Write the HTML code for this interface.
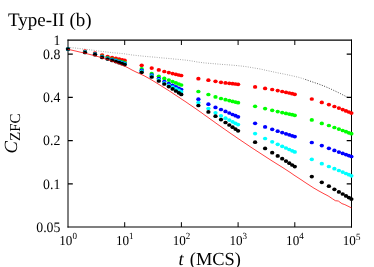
<!DOCTYPE html>
<html><head><meta charset="utf-8"><title>Type-II (b)</title>
<style>html,body{margin:0;padding:0;background:#fff;}svg{display:block;font-family:"Liberation Serif",serif;will-change:transform;text-rendering:geometricPrecision;}</style></head><body>
<svg width="374" height="267" viewBox="0 0 374 267">
<rect x="0" y="0" width="374" height="267" fill="#ffffff"/>
<defs><filter id="soft" x="-5%" y="-5%" width="110%" height="110%"><feGaussianBlur stdDeviation="0.3"/></filter></defs>
<g stroke="#000" fill="none">
<path stroke-width="1" d="M68.0 39.6V227.6M351.5 39.6V227.6"/>
<path stroke-width="1.2" d="M67.5 40.2H352.0M67.5 227.0H352.0"/>
<path stroke-width="1" d="M124.7 227.0v-4.8M124.7 40.2v4.8M181.4 227.0v-4.8M181.4 40.2v4.8M238.1 227.0v-4.8M238.1 40.2v4.8M294.8 227.0v-4.8M294.8 40.2v4.8"/>
<path stroke-width="1.2" d="M68.0 54.1h4.8M351.5 54.1h-4.8M68.0 97.3h4.8M351.5 97.3h-4.8M68.0 140.6h4.8M351.5 140.6h-4.8M68.0 183.8h4.8M351.5 183.8h-4.8"/>
</g>
<polyline points="68.0,47.4 70.3,47.6 72.7,47.8 75.0,48.0 77.4,48.3 79.7,48.6 82.1,48.9 84.4,49.1 86.8,49.4 89.1,49.7 91.5,50.0 93.8,50.3 96.2,50.7 98.5,51.0 100.9,51.3 103.2,51.6 105.6,51.9 107.9,52.2 110.3,52.4 112.6,52.7 115.0,52.9 117.3,53.1 119.7,53.3 122.0,53.6 124.4,53.8 126.7,54.2 129.1,54.5 131.4,54.9 133.8,55.2 136.1,55.4 138.5,55.7 140.8,55.9 143.2,56.2 145.5,56.4 147.9,56.6 150.2,56.8 152.6,57.0 154.9,57.2 157.3,57.4 159.6,57.7 162.0,57.9 164.3,58.1 166.7,58.3 169.0,58.5 171.4,58.7 173.7,59.0 176.1,59.2 178.4,59.4 180.8,59.6 183.1,59.9 185.5,60.1 187.8,60.4 190.2,60.7 192.5,61.1 194.9,61.5 197.2,62.0 199.6,62.3 201.9,62.6 204.3,62.9 206.6,63.1 209.0,63.3 211.3,63.5 213.7,63.7 216.0,63.9 218.4,64.1 220.7,64.3 223.1,64.5 225.4,64.6 227.8,64.8 230.1,65.0 232.5,65.2 234.8,65.4 237.2,65.6 239.5,65.9 241.9,66.1 244.2,66.4 246.6,66.7 248.9,67.1 251.3,67.5 253.6,67.9 256.0,68.3 258.3,68.7 260.7,69.1 263.0,69.6 265.4,70.2 267.7,70.7 270.1,71.2 272.4,71.7 274.8,72.2 277.1,72.7 279.5,73.2 281.8,73.6 284.2,74.1 286.5,74.6 288.9,75.1 291.2,75.6 293.6,76.1 295.9,76.7 298.3,77.2 300.6,77.9 303.0,78.6 305.3,79.4" fill="none" stroke="#505050" stroke-width="0.55" stroke-dasharray="0.9 1.45"/>
<polyline points="305.3,79.4 307.7,80.3 310.0,81.1 312.4,81.9 314.7,82.7 317.1,83.5 319.4,84.3 321.8,85.2 324.1,86.1 326.5,87.1 328.8,88.1 331.2,89.2 333.5,90.3 335.9,91.4 338.2,92.5 340.6,93.7 342.9,94.9 345.3,96.1 347.6,97.3 349.0,98.0" fill="none" stroke="#000" stroke-width="0.75" stroke-dasharray="1.0 1.5"/>
<g filter="url(#soft)">
<g fill="#ff0000">
<ellipse cx="68.0" cy="49.0" rx="2.15" ry="1.85"/>
<ellipse cx="85.0" cy="51.0" rx="2.15" ry="1.85"/>
<ellipse cx="95.0" cy="53.0" rx="2.15" ry="1.85"/>
<ellipse cx="102.1" cy="55.0" rx="2.15" ry="1.85"/>
<ellipse cx="107.6" cy="56.5" rx="2.15" ry="1.85"/>
<ellipse cx="112.1" cy="57.6" rx="2.15" ry="1.85"/>
<ellipse cx="115.9" cy="58.4" rx="2.15" ry="1.85"/>
<ellipse cx="119.2" cy="59.1" rx="2.15" ry="1.85"/>
<ellipse cx="122.1" cy="59.8" rx="2.15" ry="1.85"/>
<ellipse cx="124.7" cy="60.4" rx="2.15" ry="1.85"/>
<ellipse cx="141.7" cy="65.3" rx="2.15" ry="1.85"/>
<ellipse cx="151.7" cy="68.1" rx="2.15" ry="1.85"/>
<ellipse cx="158.8" cy="69.9" rx="2.15" ry="1.85"/>
<ellipse cx="164.3" cy="71.5" rx="2.15" ry="1.85"/>
<ellipse cx="168.8" cy="72.6" rx="2.15" ry="1.85"/>
<ellipse cx="172.6" cy="73.6" rx="2.15" ry="1.85"/>
<ellipse cx="175.9" cy="74.3" rx="2.15" ry="1.85"/>
<ellipse cx="178.8" cy="75.0" rx="2.15" ry="1.85"/>
<ellipse cx="181.3" cy="75.5" rx="2.15" ry="1.85"/>
<ellipse cx="198.4" cy="78.7" rx="2.15" ry="1.85"/>
<ellipse cx="208.4" cy="80.2" rx="2.15" ry="1.85"/>
<ellipse cx="215.5" cy="81.3" rx="2.15" ry="1.85"/>
<ellipse cx="221.0" cy="82.3" rx="2.15" ry="1.85"/>
<ellipse cx="225.5" cy="82.9" rx="2.15" ry="1.85"/>
<ellipse cx="229.3" cy="83.3" rx="2.15" ry="1.85"/>
<ellipse cx="232.6" cy="83.7" rx="2.15" ry="1.85"/>
<ellipse cx="235.5" cy="84.0" rx="2.15" ry="1.85"/>
<ellipse cx="238.1" cy="84.3" rx="2.15" ry="1.85"/>
<ellipse cx="255.1" cy="86.9" rx="2.15" ry="1.85"/>
<ellipse cx="265.1" cy="88.4" rx="2.15" ry="1.85"/>
<ellipse cx="272.2" cy="89.5" rx="2.15" ry="1.85"/>
<ellipse cx="277.7" cy="90.6" rx="2.15" ry="1.85"/>
<ellipse cx="282.2" cy="91.5" rx="2.15" ry="1.85"/>
<ellipse cx="286.0" cy="92.3" rx="2.15" ry="1.85"/>
<ellipse cx="289.3" cy="93.0" rx="2.15" ry="1.85"/>
<ellipse cx="292.2" cy="93.7" rx="2.15" ry="1.85"/>
<ellipse cx="294.8" cy="94.3" rx="2.15" ry="1.85"/>
<ellipse cx="311.8" cy="99.0" rx="2.15" ry="1.85"/>
<ellipse cx="321.8" cy="102.4" rx="2.15" ry="1.85"/>
<ellipse cx="328.9" cy="104.6" rx="2.15" ry="1.85"/>
<ellipse cx="334.4" cy="106.5" rx="2.15" ry="1.85"/>
<ellipse cx="338.9" cy="108.1" rx="2.15" ry="1.85"/>
<ellipse cx="342.7" cy="109.6" rx="2.15" ry="1.85"/>
<ellipse cx="346.0" cy="110.9" rx="2.15" ry="1.85"/>
<ellipse cx="348.9" cy="112.0" rx="2.15" ry="1.85"/>
<ellipse cx="351.4" cy="113.1" rx="2.15" ry="1.85"/>
</g>
<g fill="#00ff00">
<ellipse cx="68.0" cy="49.0" rx="2.15" ry="1.85"/>
<ellipse cx="85.0" cy="51.9" rx="2.15" ry="1.85"/>
<ellipse cx="95.0" cy="53.9" rx="2.15" ry="1.85"/>
<ellipse cx="102.1" cy="56.3" rx="2.15" ry="1.85"/>
<ellipse cx="107.6" cy="57.9" rx="2.15" ry="1.85"/>
<ellipse cx="112.1" cy="59.1" rx="2.15" ry="1.85"/>
<ellipse cx="115.9" cy="60.1" rx="2.15" ry="1.85"/>
<ellipse cx="119.2" cy="61.0" rx="2.15" ry="1.85"/>
<ellipse cx="122.1" cy="61.9" rx="2.15" ry="1.85"/>
<ellipse cx="124.7" cy="62.7" rx="2.15" ry="1.85"/>
<ellipse cx="141.7" cy="68.9" rx="2.15" ry="1.85"/>
<ellipse cx="151.7" cy="73.7" rx="2.15" ry="1.85"/>
<ellipse cx="158.8" cy="76.3" rx="2.15" ry="1.85"/>
<ellipse cx="164.3" cy="78.4" rx="2.15" ry="1.85"/>
<ellipse cx="168.8" cy="80.1" rx="2.15" ry="1.85"/>
<ellipse cx="172.6" cy="81.6" rx="2.15" ry="1.85"/>
<ellipse cx="175.9" cy="82.9" rx="2.15" ry="1.85"/>
<ellipse cx="178.8" cy="84.0" rx="2.15" ry="1.85"/>
<ellipse cx="181.3" cy="85.0" rx="2.15" ry="1.85"/>
<ellipse cx="198.4" cy="91.5" rx="2.15" ry="1.85"/>
<ellipse cx="208.4" cy="94.5" rx="2.15" ry="1.85"/>
<ellipse cx="215.5" cy="96.9" rx="2.15" ry="1.85"/>
<ellipse cx="221.0" cy="98.5" rx="2.15" ry="1.85"/>
<ellipse cx="225.5" cy="99.7" rx="2.15" ry="1.85"/>
<ellipse cx="229.3" cy="100.6" rx="2.15" ry="1.85"/>
<ellipse cx="232.6" cy="101.4" rx="2.15" ry="1.85"/>
<ellipse cx="235.5" cy="102.1" rx="2.15" ry="1.85"/>
<ellipse cx="238.1" cy="102.7" rx="2.15" ry="1.85"/>
<ellipse cx="255.1" cy="106.3" rx="2.15" ry="1.85"/>
<ellipse cx="265.1" cy="108.6" rx="2.15" ry="1.85"/>
<ellipse cx="272.2" cy="110.3" rx="2.15" ry="1.85"/>
<ellipse cx="277.7" cy="111.6" rx="2.15" ry="1.85"/>
<ellipse cx="282.2" cy="112.6" rx="2.15" ry="1.85"/>
<ellipse cx="286.0" cy="113.4" rx="2.15" ry="1.85"/>
<ellipse cx="289.3" cy="114.1" rx="2.15" ry="1.85"/>
<ellipse cx="292.2" cy="114.7" rx="2.15" ry="1.85"/>
<ellipse cx="294.8" cy="115.3" rx="2.15" ry="1.85"/>
<ellipse cx="311.8" cy="119.9" rx="2.15" ry="1.85"/>
<ellipse cx="321.8" cy="123.4" rx="2.15" ry="1.85"/>
<ellipse cx="328.9" cy="125.5" rx="2.15" ry="1.85"/>
<ellipse cx="334.4" cy="127.5" rx="2.15" ry="1.85"/>
<ellipse cx="338.9" cy="129.1" rx="2.15" ry="1.85"/>
<ellipse cx="342.7" cy="130.5" rx="2.15" ry="1.85"/>
<ellipse cx="346.0" cy="131.7" rx="2.15" ry="1.85"/>
<ellipse cx="348.9" cy="132.8" rx="2.15" ry="1.85"/>
<ellipse cx="351.4" cy="133.7" rx="2.15" ry="1.85"/>
</g>
<g fill="#0000ff">
<ellipse cx="68.0" cy="49.0" rx="2.15" ry="1.85"/>
<ellipse cx="85.0" cy="52.1" rx="2.15" ry="1.85"/>
<ellipse cx="95.0" cy="54.2" rx="2.15" ry="1.85"/>
<ellipse cx="102.1" cy="56.8" rx="2.15" ry="1.85"/>
<ellipse cx="107.6" cy="58.3" rx="2.15" ry="1.85"/>
<ellipse cx="112.1" cy="59.6" rx="2.15" ry="1.85"/>
<ellipse cx="115.9" cy="60.7" rx="2.15" ry="1.85"/>
<ellipse cx="119.2" cy="61.7" rx="2.15" ry="1.85"/>
<ellipse cx="122.1" cy="62.6" rx="2.15" ry="1.85"/>
<ellipse cx="124.7" cy="63.5" rx="2.15" ry="1.85"/>
<ellipse cx="141.7" cy="70.3" rx="2.15" ry="1.85"/>
<ellipse cx="151.7" cy="75.1" rx="2.15" ry="1.85"/>
<ellipse cx="158.8" cy="78.5" rx="2.15" ry="1.85"/>
<ellipse cx="164.3" cy="81.5" rx="2.15" ry="1.85"/>
<ellipse cx="168.8" cy="83.7" rx="2.15" ry="1.85"/>
<ellipse cx="172.6" cy="85.4" rx="2.15" ry="1.85"/>
<ellipse cx="175.9" cy="86.9" rx="2.15" ry="1.85"/>
<ellipse cx="178.8" cy="88.3" rx="2.15" ry="1.85"/>
<ellipse cx="181.3" cy="89.6" rx="2.15" ry="1.85"/>
<ellipse cx="198.4" cy="99.2" rx="2.15" ry="1.85"/>
<ellipse cx="208.4" cy="104.2" rx="2.15" ry="1.85"/>
<ellipse cx="215.5" cy="107.4" rx="2.15" ry="1.85"/>
<ellipse cx="221.0" cy="109.5" rx="2.15" ry="1.85"/>
<ellipse cx="225.5" cy="111.4" rx="2.15" ry="1.85"/>
<ellipse cx="229.3" cy="113.0" rx="2.15" ry="1.85"/>
<ellipse cx="232.6" cy="114.5" rx="2.15" ry="1.85"/>
<ellipse cx="235.5" cy="115.7" rx="2.15" ry="1.85"/>
<ellipse cx="238.1" cy="116.8" rx="2.15" ry="1.85"/>
<ellipse cx="255.1" cy="123.3" rx="2.15" ry="1.85"/>
<ellipse cx="265.1" cy="126.9" rx="2.15" ry="1.85"/>
<ellipse cx="272.2" cy="129.3" rx="2.15" ry="1.85"/>
<ellipse cx="277.7" cy="131.2" rx="2.15" ry="1.85"/>
<ellipse cx="282.2" cy="132.6" rx="2.15" ry="1.85"/>
<ellipse cx="286.0" cy="133.8" rx="2.15" ry="1.85"/>
<ellipse cx="289.3" cy="134.8" rx="2.15" ry="1.85"/>
<ellipse cx="292.2" cy="135.8" rx="2.15" ry="1.85"/>
<ellipse cx="294.8" cy="136.6" rx="2.15" ry="1.85"/>
<ellipse cx="311.8" cy="142.5" rx="2.15" ry="1.85"/>
<ellipse cx="321.8" cy="145.6" rx="2.15" ry="1.85"/>
<ellipse cx="328.9" cy="148.3" rx="2.15" ry="1.85"/>
<ellipse cx="334.4" cy="150.4" rx="2.15" ry="1.85"/>
<ellipse cx="338.9" cy="152.1" rx="2.15" ry="1.85"/>
<ellipse cx="342.7" cy="153.4" rx="2.15" ry="1.85"/>
<ellipse cx="346.0" cy="154.6" rx="2.15" ry="1.85"/>
<ellipse cx="348.9" cy="155.6" rx="2.15" ry="1.85"/>
<ellipse cx="351.4" cy="156.5" rx="2.15" ry="1.85"/>
</g>
<g fill="#00ffff">
<ellipse cx="68.0" cy="49.0" rx="2.15" ry="1.85"/>
<ellipse cx="85.0" cy="52.4" rx="2.15" ry="1.85"/>
<ellipse cx="95.0" cy="54.5" rx="2.15" ry="1.85"/>
<ellipse cx="102.1" cy="57.1" rx="2.15" ry="1.85"/>
<ellipse cx="107.6" cy="58.7" rx="2.15" ry="1.85"/>
<ellipse cx="112.1" cy="60.0" rx="2.15" ry="1.85"/>
<ellipse cx="115.9" cy="61.2" rx="2.15" ry="1.85"/>
<ellipse cx="119.2" cy="62.2" rx="2.15" ry="1.85"/>
<ellipse cx="122.1" cy="63.2" rx="2.15" ry="1.85"/>
<ellipse cx="124.7" cy="64.1" rx="2.15" ry="1.85"/>
<ellipse cx="141.7" cy="71.3" rx="2.15" ry="1.85"/>
<ellipse cx="151.7" cy="76.2" rx="2.15" ry="1.85"/>
<ellipse cx="158.8" cy="79.8" rx="2.15" ry="1.85"/>
<ellipse cx="164.3" cy="83.0" rx="2.15" ry="1.85"/>
<ellipse cx="168.8" cy="85.4" rx="2.15" ry="1.85"/>
<ellipse cx="172.6" cy="87.2" rx="2.15" ry="1.85"/>
<ellipse cx="175.9" cy="88.9" rx="2.15" ry="1.85"/>
<ellipse cx="178.8" cy="90.4" rx="2.15" ry="1.85"/>
<ellipse cx="181.3" cy="91.8" rx="2.15" ry="1.85"/>
<ellipse cx="198.4" cy="102.6" rx="2.15" ry="1.85"/>
<ellipse cx="208.4" cy="108.5" rx="2.15" ry="1.85"/>
<ellipse cx="215.5" cy="112.8" rx="2.15" ry="1.85"/>
<ellipse cx="221.0" cy="115.8" rx="2.15" ry="1.85"/>
<ellipse cx="225.5" cy="118.2" rx="2.15" ry="1.85"/>
<ellipse cx="229.3" cy="120.1" rx="2.15" ry="1.85"/>
<ellipse cx="232.6" cy="121.8" rx="2.15" ry="1.85"/>
<ellipse cx="235.5" cy="123.3" rx="2.15" ry="1.85"/>
<ellipse cx="238.1" cy="124.6" rx="2.15" ry="1.85"/>
<ellipse cx="255.1" cy="133.6" rx="2.15" ry="1.85"/>
<ellipse cx="265.1" cy="138.5" rx="2.15" ry="1.85"/>
<ellipse cx="272.2" cy="141.8" rx="2.15" ry="1.85"/>
<ellipse cx="277.7" cy="144.3" rx="2.15" ry="1.85"/>
<ellipse cx="282.2" cy="146.3" rx="2.15" ry="1.85"/>
<ellipse cx="286.0" cy="148.0" rx="2.15" ry="1.85"/>
<ellipse cx="289.3" cy="149.5" rx="2.15" ry="1.85"/>
<ellipse cx="292.2" cy="150.8" rx="2.15" ry="1.85"/>
<ellipse cx="294.8" cy="151.9" rx="2.15" ry="1.85"/>
<ellipse cx="311.8" cy="159.3" rx="2.15" ry="1.85"/>
<ellipse cx="321.8" cy="163.7" rx="2.15" ry="1.85"/>
<ellipse cx="328.9" cy="166.5" rx="2.15" ry="1.85"/>
<ellipse cx="334.4" cy="168.7" rx="2.15" ry="1.85"/>
<ellipse cx="338.9" cy="170.5" rx="2.15" ry="1.85"/>
<ellipse cx="342.7" cy="172.1" rx="2.15" ry="1.85"/>
<ellipse cx="346.0" cy="173.5" rx="2.15" ry="1.85"/>
<ellipse cx="348.9" cy="174.7" rx="2.15" ry="1.85"/>
<ellipse cx="351.4" cy="175.8" rx="2.15" ry="1.85"/>
</g>
<g fill="#000000">
<ellipse cx="68.0" cy="49.0" rx="2.15" ry="1.85"/>
<ellipse cx="85.0" cy="52.5" rx="2.15" ry="1.85"/>
<ellipse cx="95.0" cy="54.7" rx="2.15" ry="1.85"/>
<ellipse cx="102.1" cy="57.4" rx="2.15" ry="1.85"/>
<ellipse cx="107.6" cy="59.0" rx="2.15" ry="1.85"/>
<ellipse cx="112.1" cy="60.4" rx="2.15" ry="1.85"/>
<ellipse cx="115.9" cy="61.6" rx="2.15" ry="1.85"/>
<ellipse cx="119.2" cy="62.7" rx="2.15" ry="1.85"/>
<ellipse cx="122.1" cy="63.7" rx="2.15" ry="1.85"/>
<ellipse cx="124.7" cy="64.6" rx="2.15" ry="1.85"/>
<ellipse cx="141.7" cy="72.3" rx="2.15" ry="1.85"/>
<ellipse cx="151.7" cy="77.0" rx="2.15" ry="1.85"/>
<ellipse cx="158.8" cy="81.0" rx="2.15" ry="1.85"/>
<ellipse cx="164.3" cy="84.0" rx="2.15" ry="1.85"/>
<ellipse cx="168.8" cy="86.6" rx="2.15" ry="1.85"/>
<ellipse cx="172.6" cy="88.9" rx="2.15" ry="1.85"/>
<ellipse cx="175.9" cy="91.0" rx="2.15" ry="1.85"/>
<ellipse cx="178.8" cy="92.8" rx="2.15" ry="1.85"/>
<ellipse cx="181.3" cy="94.4" rx="2.15" ry="1.85"/>
<ellipse cx="198.4" cy="105.5" rx="2.15" ry="1.85"/>
<ellipse cx="208.4" cy="111.9" rx="2.15" ry="1.85"/>
<ellipse cx="215.5" cy="116.2" rx="2.15" ry="1.85"/>
<ellipse cx="221.0" cy="119.6" rx="2.15" ry="1.85"/>
<ellipse cx="225.5" cy="122.5" rx="2.15" ry="1.85"/>
<ellipse cx="229.3" cy="125.0" rx="2.15" ry="1.85"/>
<ellipse cx="232.6" cy="127.2" rx="2.15" ry="1.85"/>
<ellipse cx="235.5" cy="129.1" rx="2.15" ry="1.85"/>
<ellipse cx="238.1" cy="130.8" rx="2.15" ry="1.85"/>
<ellipse cx="255.1" cy="142.2" rx="2.15" ry="1.85"/>
<ellipse cx="265.1" cy="148.4" rx="2.15" ry="1.85"/>
<ellipse cx="272.2" cy="152.7" rx="2.15" ry="1.85"/>
<ellipse cx="277.7" cy="155.9" rx="2.15" ry="1.85"/>
<ellipse cx="282.2" cy="158.7" rx="2.15" ry="1.85"/>
<ellipse cx="286.0" cy="161.1" rx="2.15" ry="1.85"/>
<ellipse cx="289.3" cy="163.2" rx="2.15" ry="1.85"/>
<ellipse cx="292.2" cy="165.0" rx="2.15" ry="1.85"/>
<ellipse cx="294.8" cy="166.6" rx="2.15" ry="1.85"/>
<ellipse cx="311.8" cy="176.6" rx="2.15" ry="1.85"/>
<ellipse cx="321.8" cy="182.3" rx="2.15" ry="1.85"/>
<ellipse cx="328.9" cy="186.2" rx="2.15" ry="1.85"/>
<ellipse cx="334.4" cy="189.3" rx="2.15" ry="1.85"/>
<ellipse cx="338.9" cy="191.9" rx="2.15" ry="1.85"/>
<ellipse cx="342.7" cy="194.0" rx="2.15" ry="1.85"/>
<ellipse cx="346.0" cy="195.9" rx="2.15" ry="1.85"/>
<ellipse cx="348.9" cy="197.6" rx="2.15" ry="1.85"/>
<ellipse cx="351.4" cy="199.1" rx="2.15" ry="1.85"/>
</g>
</g>
<polyline points="68.0,49.4 70.0,49.8 72.0,50.2 74.0,50.7 76.0,51.1 78.0,51.6 80.0,52.1 82.0,52.5 84.0,53.0 86.0,53.5 88.0,54.0 90.0,54.5 92.0,55.0 94.0,55.6 96.0,56.1 98.0,56.6 100.0,57.2 102.0,57.8 104.0,58.5 106.0,59.1 108.0,59.8 110.0,60.5 112.0,61.2 114.0,62.0 116.0,62.7 118.0,63.5 120.0,64.3 122.0,65.1 124.0,65.9 126.0,66.8 128.0,67.8 130.0,68.9 132.0,70.0 134.0,71.0 136.0,72.0 138.0,72.9 140.0,73.8 142.0,74.8 144.0,75.7 146.0,76.8 148.0,77.9 150.0,79.0 152.0,80.2 154.0,81.4 156.0,82.6 158.0,83.9 160.0,85.1 162.0,86.4 164.0,87.6 166.0,88.9 168.0,90.1 170.0,91.4 172.0,92.7 174.0,94.1 176.0,95.4 178.0,96.7 180.0,98.0 182.0,99.4 184.0,100.7 186.0,102.0 188.0,103.4 190.0,104.8 192.0,106.1 194.0,107.5 196.0,108.9 198.0,110.3 200.0,111.7 202.0,113.1 204.0,114.6 206.0,116.0 208.0,117.4 210.0,118.9 212.0,120.3 214.0,121.7 216.0,123.2 218.0,124.6 220.0,126.0 222.0,127.4 224.0,128.8 226.0,130.2 228.0,131.6 230.0,133.0 232.0,134.4 234.0,135.7 236.0,137.1 238.0,138.5 240.0,139.8 242.0,141.2 244.0,142.5 246.0,143.9 248.0,145.2 250.0,146.6 252.0,147.9 254.0,149.2 256.0,150.5 258.0,151.8 260.0,153.1 262.0,154.4 264.0,155.7 266.0,157.0 268.0,158.3 270.0,159.6 272.0,160.9 274.0,162.1 276.0,163.4 278.0,164.6 280.0,165.9 282.0,167.1 284.0,168.4 286.0,169.7 288.0,171.0 290.0,172.3 292.0,173.7 294.0,175.1 296.0,176.4 298.0,177.7 300.0,179.0 302.0,180.3 304.0,181.7 306.0,183.0 308.0,184.3 310.0,185.6 312.0,186.9 314.0,188.2 316.0,189.3 318.0,190.5 320.0,191.6 322.0,192.7 324.0,193.8 326.0,194.8 328.0,195.9 328.9,196.4 332.5,198.8 335.4,200.7 338.3,201.0 341.9,203.6 344.8,204.6 351.5,207.9" fill="none" stroke="#ff0000" stroke-width="0.75"/>
<g font-size="14.4" fill="#000">
<text transform="translate(60.4,45.0) scale(0.96,1)" text-anchor="end">1</text>
<text transform="translate(60.4,58.9) scale(0.96,1)" text-anchor="end">0.8</text>
<text transform="translate(60.4,102.1) scale(0.96,1)" text-anchor="end">0.4</text>
<text transform="translate(60.4,145.3) scale(0.96,1)" text-anchor="end">0.2</text>
<text transform="translate(60.4,188.5) scale(0.96,1)" text-anchor="end">0.1</text>
<text transform="translate(60.4,231.8) scale(0.96,1)" text-anchor="end">0.05</text>
<text transform="translate(68.1,245.1) scale(0.96,1)" font-size="13.7" text-anchor="middle">10<tspan font-size="9.4" dy="-5.8">0</tspan></text>
<text transform="translate(124.8,245.1) scale(0.96,1)" font-size="13.7" text-anchor="middle">10<tspan font-size="9.4" dy="-5.8">1</tspan></text>
<text transform="translate(181.5,245.1) scale(0.96,1)" font-size="13.7" text-anchor="middle">10<tspan font-size="9.4" dy="-5.8">2</tspan></text>
<text transform="translate(238.2,245.1) scale(0.96,1)" font-size="13.7" text-anchor="middle">10<tspan font-size="9.4" dy="-5.8">3</tspan></text>
<text transform="translate(294.9,245.1) scale(0.96,1)" font-size="13.7" text-anchor="middle">10<tspan font-size="9.4" dy="-5.8">4</tspan></text>
<text transform="translate(351.6,245.1) scale(0.96,1)" font-size="13.7" text-anchor="middle">10<tspan font-size="9.4" dy="-5.0">5</tspan></text>
</g>
<text x="8" y="25.7" font-size="19">Type-II (b)</text>
<text x="178.5" y="264.8" font-size="18.4" font-style="italic">t</text>
<text x="240.9" y="264.8" font-size="18.4" text-anchor="end">(MCS)</text>
<text transform="translate(17.3,153.4) rotate(-90)" font-size="18.6"><tspan font-style="italic">C</tspan><tspan font-size="15.1" dy="2.2">ZFC</tspan></text>
</svg></body></html>
